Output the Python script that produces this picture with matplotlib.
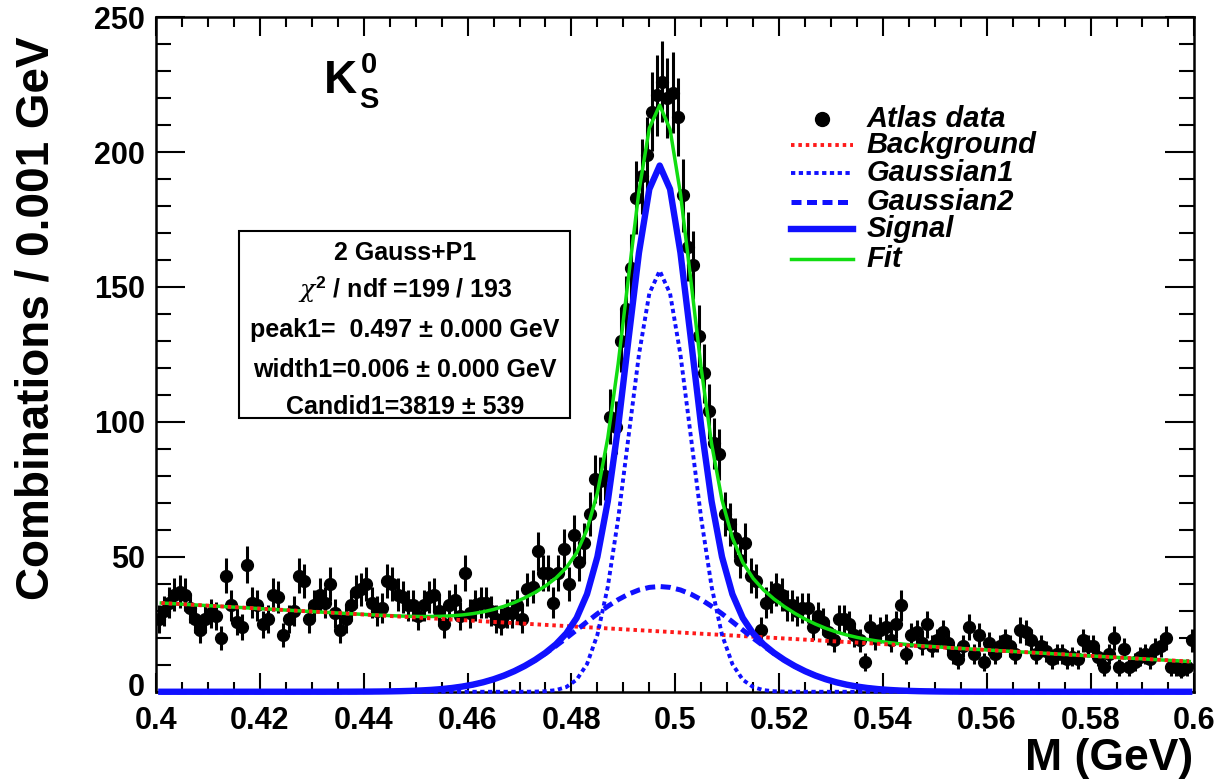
import numpy as np
import matplotlib
matplotlib.use("Agg")
import matplotlib.pyplot as plt
from matplotlib.lines import Line2D
from matplotlib.patches import Rectangle
from matplotlib.ticker import MultipleLocator
from matplotlib.transforms import ScaledTranslation

plt.rcParams['font.family'] = ['Liberation Sans', 'DejaVu Sans']
plt.rcParams['mathtext.fontset'] = 'custom'
plt.rcParams['mathtext.it'] = 'DejaVu Serif:italic'
plt.rcParams['mathtext.rm'] = 'Liberation Sans:bold'

# ---- data: counts per 0.001 GeV bin from 0.400 to 0.600 ----
bin_low = 0.400
bin_width = 0.001
counts = [
    27, 30, 33, 36, 37, 36, 31, 27, 23, 27,
    29, 28, 20, 43, 32, 26, 24, 47, 33, 32,
    25, 27, 36, 35, 21, 27, 30, 43, 41, 27,
    32, 36, 33, 40, 29, 23, 27, 32, 37, 38,
    40, 33, 30, 31, 41, 40, 36, 35, 32, 32,
    28, 32, 35, 36, 30, 25, 32, 34, 28, 44,
    29, 32, 33, 33, 30, 27, 26, 29, 29, 32,
    27, 38, 39, 52, 44, 44, 33, 44, 53, 40,
    58, 48, 55, 66, 79, 78, 80, 102, 98, 130,
    142, 157, 183, 191, 199, 215, 221, 226, 220, 222,
    213, 184, 165, 158, 132, 118, 104, 92, 88, 66,
    62, 57, 49, 55, 43, 41, 23, 33, 35, 38,
    36, 32, 32, 30, 31, 31, 24, 28, 26, 22,
    19, 27, 27, 25, 21, 19, 11, 24, 20, 23,
    24, 19, 25, 32, 14, 21, 22, 18, 25, 17,
    19, 22, 18, 14, 12, 17, 24, 14, 21, 11,
    18, 14, 17, 19, 17, 14, 23, 22, 19, 14,
    17, 15, 12, 14, 14, 12, 13, 12, 19, 17,
    17, 13, 9, 14, 20, 9, 16, 9, 11, 13,
    14, 12, 16, 17, 20, 9, 9, 8, 9, 19,
]

# ---- fit parameters (2 Gauss + P1) ----
bg_p0 = 33.0          # background value at x = 0.4
bg_slope = -109.5     # per GeV
g1_amp, g1_mean, g1_sigma = 156.0, 0.497, 0.0060
g2_amp, g2_mean, g2_sigma = 39.0, 0.497, 0.0155
fit_range = (0.401, 0.599)

stats_lines = ["2 Gauss+P1",
               r"$\chi^{2}$ / ndf =199 / 193",
               "peak1=  0.497 \u00b1 0.000 GeV",
               "width1=0.006 \u00b1 0.000 GeV",
               "Candid1=3819 \u00b1 539"]
legend_labels = ["Atlas data", "Background", "Gaussian1", "Gaussian2", "Signal", "Fit"]

# ---- derived ----
counts = np.array(counts, dtype=float)
xc = bin_low + bin_width * (np.arange(len(counts)) + 0.5)
xf = np.linspace(fit_range[0], fit_range[1], 100)
bg = bg_p0 + bg_slope * (xf - 0.4)
g1 = g1_amp * np.exp(-0.5 * ((xf - g1_mean) / g1_sigma) ** 2)
g2 = g2_amp * np.exp(-0.5 * ((xf - g2_mean) / g2_sigma) ** 2)
sig = g1 + g2
fit = bg + sig

RED = '#ff1a1a'
BLUE = '#1010ff'
GREEN = '#11dd11'
MS = 8.5

st_bg = dict(color=RED, lw=2.8, ls=(0, (0.9, 1.0)))
st_g1 = dict(color=BLUE, lw=2.8, ls=(0, (1.1, 0.9)))
st_g2 = dict(color=BLUE, lw=3.6, ls=(0, (2.0, 1.1)))
st_sig = dict(color=BLUE, lw=4.6, ls='-')
st_fit = dict(color=GREEN, lw=2.5, ls='-')

fig = plt.figure(figsize=(12.2, 7.79), dpi=100)
ax = fig.add_axes([0.128, 0.112, 0.851, 0.866])

ax.errorbar(xc, counts, yerr=np.sqrt(counts), fmt='o', color='black',
            ms=MS, elinewidth=2.2, capsize=0, zorder=2)
ax.plot(xf, fit, zorder=3, **st_fit)
ax.plot(xf, bg, zorder=4, **st_bg)
ax.plot(xf, g2, zorder=5, clip_on=False, **st_g2)
ax.plot(xf, g1, zorder=5, clip_on=False, **st_g1)
ax.plot(xf, sig, zorder=5, clip_on=False, **st_sig)

ax.set_xlim(0.4, 0.6)
ax.set_ylim(0, 250)
ax.xaxis.set_minor_locator(MultipleLocator(0.005))
ax.yaxis.set_minor_locator(MultipleLocator(10))
ax.set_yticks(np.arange(0, 251, 50))
ax.set_xticks(np.arange(0.4, 0.6001, 0.02))
ax.set_xticklabels(['0.4', '0.42', '0.44', '0.46', '0.48', '0.5', '0.52', '0.54',
                    '0.56', '0.58', '0.6'])
ax.tick_params(axis='both', which='both', direction='in', top=True, right=True,
               width=1.5, labelsize=22)
ax.tick_params(axis='x', which='major', length=14, pad=10)
ax.tick_params(axis='x', which='minor', length=7)
ax.tick_params(axis='y', which='major', length=21, pad=8)
ax.tick_params(axis='y', which='minor', length=11)
for lab in ax.get_xticklabels() + ax.get_yticklabels():
    lab.set_fontweight('bold')
for s in ax.spines.values():
    s.set_linewidth(1.8)
# lift the bottom "0" label slightly so it clears the "0.4" label
ylab0 = ax.get_yticklabels()[0]
ylab0.set_transform(ylab0.get_transform() +
                    ScaledTranslation(0, 5 / 72, fig.dpi_scale_trans))

fig.text(0.978, 0.012, 'M (GeV)', ha='right', va='baseline', fontsize=32,
         fontweight='bold')
fig.text(0.012, 0.592, 'Combinations / 0.001 GeV', rotation=90, ha='left',
         va='center', fontsize=33, fontweight='bold')

# K0S label
ax.text(0.162, 0.887, 'K', transform=ax.transAxes, fontsize=33,
        fontweight='bold', ha='left', va='baseline')
ax.text(0.197, 0.917, '0', transform=ax.transAxes, fontsize=21,
        fontweight='bold', ha='left', va='baseline')
ax.text(0.196, 0.865, 'S', transform=ax.transAxes, fontsize=21,
        fontweight='bold', ha='left', va='baseline')

# stats box
ax.add_patch(Rectangle((0.080, 0.406), 0.319, 0.277, transform=ax.transAxes,
                       facecolor='white', edgecolor='black', lw=1.5, zorder=6))
line_y = [0.650, 0.596, 0.536, 0.477, 0.422]
for t, yy in zip(stats_lines, line_y):
    ax.text(0.2395, yy, t, transform=ax.transAxes, ha='center', va='center',
            fontsize=18, fontweight='bold', zorder=7)

# legend (drawn manually)
leg_y = [0.849, 0.810, 0.769, 0.726, 0.686, 0.641]
hx0, hx1, tx = 0.611, 0.671, 0.684
styles = [None, st_bg, st_g1, st_g2, st_sig, st_fit]
for lab, yy, st in zip(legend_labels, leg_y, styles):
    if st is None:
        ax.plot([(hx0 + hx1) / 2], [yy], 'o', color='black', ms=10,
                transform=ax.transAxes)
    else:
        ax.add_line(Line2D([hx0, hx1], [yy, yy], transform=ax.transAxes, **st))
    ax.text(tx, yy, lab, transform=ax.transAxes, ha='left', va='center',
            fontsize=21, fontweight='bold', fontstyle='italic')

fig.savefig('out.png', dpi=100)
